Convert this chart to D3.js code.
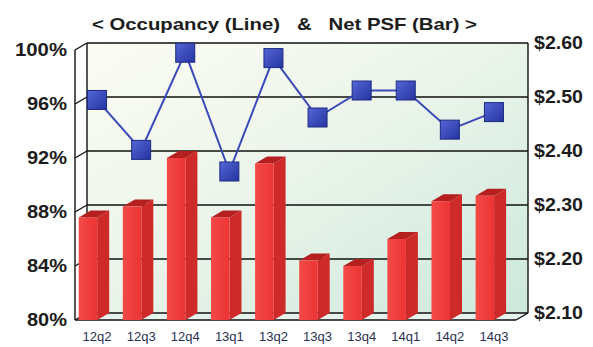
<!DOCTYPE html>
<html>
<head>
<meta charset="utf-8">
<script src="https://cdn.jsdelivr.net/npm/d3@7"></script>
<style>
  html, body { margin: 0; padding: 0; background: #ffffff; }
  svg { display: block; }
</style>
</head>
<body>
<svg id="chart" width="593" height="347"></svg>
<script>
// Quarterly occupancy (line, left axis) and net rent per square foot (bars, right axis)
const categories = ['12q2', '12q3', '12q4', '13q1', '13q2', '13q3', '13q4', '14q1', '14q2', '14q3'];
const occupancy = [96.3, 92.6, 99.8, 91.0, 99.4, 95.0, 97.0, 97.0, 94.1, 95.4];
const netPsf = [2.29, 2.31, 2.40, 2.29, 2.39, 2.21, 2.20, 2.25, 2.32, 2.33];
const pctTicks = [80, 84, 88, 92, 96, 100];
const psfTicks = [2.10, 2.20, 2.30, 2.40, 2.50, 2.60];

const svg = d3.select('#chart');

// Front plane of the 3-D box and the depth offset to the back wall
const front = { left: 75, right: 516, top: 50, bottom: 320 };
const depth = { dx: 12, dy: -7 };

const x = d3.scaleBand().domain(categories).range([front.left, front.right]).padding(0);
const yPct = d3.scaleLinear().domain([80, 100]).range([front.bottom, front.top]);
const yPsf = d3.scaleLinear().domain([2.10, 2.60]).range([front.bottom, front.top]);

const back = {
  left: front.left + depth.dx, right: front.right + depth.dx,
  top: front.top + depth.dy, bottom: front.bottom + depth.dy
};

const defs = svg.append('defs');
const wallGrad = defs.append('linearGradient').attr('id', 'wall')
  .attr('x1', '0').attr('y1', '0').attr('x2', '1').attr('y2', '1');
wallGrad.append('stop').attr('offset', '0%').attr('stop-color', '#fbfcf3');
wallGrad.append('stop').attr('offset', '40%').attr('stop-color', '#eef6ec');
wallGrad.append('stop').attr('offset', '100%').attr('stop-color', '#cde8dc');

const markGrad = defs.append('linearGradient').attr('id', 'mark')
  .attr('x1', '0').attr('y1', '0').attr('x2', '1').attr('y2', '1');
markGrad.append('stop').attr('offset', '0%').attr('stop-color', '#5566d6');
markGrad.append('stop').attr('offset', '100%').attr('stop-color', '#2434a0');

const barGrad = defs.append('linearGradient').attr('id', 'barFront')
  .attr('x1', '0').attr('y1', '0').attr('x2', '1').attr('y2', '0');
barGrad.append('stop').attr('offset', '0%').attr('stop-color', '#f24a48');
barGrad.append('stop').attr('offset', '100%').attr('stop-color', '#ec3434');

// Back wall
svg.append('rect')
  .attr('x', back.left).attr('y', back.top)
  .attr('width', back.right - back.left).attr('height', back.bottom - back.top)
  .attr('fill', 'url(#wall)');

// Floor strip
svg.append('path')
  .attr('d', `M${front.left},${front.bottom}L${back.left},${back.bottom}L${back.right},${back.bottom}L${front.right},${front.bottom}Z`)
  .attr('fill', '#e6f2ec');

// Gridlines on the back wall plus their slanted ticks on the left side wall
const grid = svg.append('g').attr('stroke', '#111').attr('stroke-width', 1.4).attr('fill', 'none');
pctTicks.forEach(t => {
  const yf = yPct(t), yb = yf + depth.dy;
  grid.append('line').attr('x1', back.left).attr('x2', back.right).attr('y1', yb).attr('y2', yb);
  grid.append('line').attr('x1', front.left).attr('x2', back.left).attr('y1', yf).attr('y2', yb);
});
// Box edges
grid.append('line').attr('x1', back.left).attr('x2', back.left).attr('y1', back.top).attr('y2', back.bottom);
grid.append('line').attr('x1', front.left).attr('x2', front.left).attr('y1', front.top).attr('y2', front.bottom);
grid.append('line').attr('x1', back.right).attr('x2', back.right).attr('y1', back.top).attr('y2', back.bottom);
grid.append('line').attr('x1', front.left).attr('x2', front.right).attr('y1', front.bottom).attr('y2', front.bottom);
grid.append('line').attr('x1', front.right).attr('x2', back.right).attr('y1', front.bottom).attr('y2', back.bottom);

// 3-D bars
const barOffset = 3.7, barWidth = 18.5;
const bars = svg.append('g');
categories.forEach((c, i) => {
  const x0 = x(c) + barOffset, x1 = x0 + barWidth;
  const yt = yPsf(netPsf[i]), yb = front.bottom;
  const g = bars.append('g');
  g.append('path')
    .attr('d', `M${x1},${yt}L${x1 + depth.dx},${yt + depth.dy}L${x1 + depth.dx},${yb + depth.dy}L${x1},${yb}Z`)
    .attr('fill', '#cf2a2a');
  g.append('path')
    .attr('d', `M${x0},${yt}L${x0 + depth.dx},${yt + depth.dy}L${x1 + depth.dx},${yt + depth.dy}L${x1},${yt}Z`)
    .attr('fill', '#b51f1f');
  g.append('rect')
    .attr('x', x0).attr('y', yt).attr('width', barWidth).attr('height', yb - yt)
    .attr('fill', 'url(#barFront)');
});

// Occupancy line and square markers
const cx = c => x(c) + x.bandwidth() / 2;
const line = d3.line().x((d, i) => cx(categories[i])).y(d => yPct(d));
svg.append('path')
  .datum(occupancy)
  .attr('d', line)
  .attr('fill', 'none')
  .attr('stroke', '#3a48b8')
  .attr('stroke-width', 2);

const ms = 19;
svg.append('g').selectAll('rect')
  .data(occupancy)
  .join('rect')
  .attr('x', (d, i) => cx(categories[i]) - ms / 2)
  .attr('y', d => yPct(d) - ms / 2)
  .attr('width', ms).attr('height', ms)
  .attr('fill', 'url(#mark)')
  .attr('stroke', '#1c2a80')
  .attr('stroke-width', 1);

// Axis labels
const font = '"Liberation Sans", Arial, sans-serif';
svg.append('g').selectAll('text')
  .data(pctTicks)
  .join('text')
  .attr('x', 67).attr('y', d => yPct(d))
  .attr('text-anchor', 'end').attr('dominant-baseline', 'central')
  .attr('font-family', font).attr('font-weight', 'bold').attr('font-size', 18)
  .attr('fill', '#1c1c1c')
  .attr('textLength', d => d === 100 ? 52 : 40).attr('lengthAdjust', 'spacingAndGlyphs')
  .text(d => d + '%');

svg.append('g').selectAll('text')
  .data(psfTicks)
  .join('text')
  .attr('x', back.right + 6).attr('y', d => yPsf(d) + depth.dy)
  .attr('dominant-baseline', 'central')
  .attr('font-family', font).attr('font-weight', 'bold').attr('font-size', 18)
  .attr('fill', '#1c1c1c')
  .attr('textLength', 49).attr('lengthAdjust', 'spacingAndGlyphs')
  .text(d => '$' + d.toFixed(2));

svg.append('g').selectAll('text')
  .data(categories)
  .join('text')
  .attr('x', c => cx(c)).attr('y', 336)
  .attr('text-anchor', 'middle').attr('dominant-baseline', 'central')
  .attr('font-family', font).attr('font-size', 13)
  .attr('fill', '#2a3050')
  .text(c => c);

// Title
svg.append('text')
  .attr('x', 92).attr('y', 24)
  .attr('dominant-baseline', 'central')
  .attr('font-family', font).attr('font-weight', 'bold').attr('font-size', 17)
  .attr('fill', '#1c1c1c')
  .attr('textLength', 385).attr('lengthAdjust', 'spacingAndGlyphs')
  .attr('xml:space', 'preserve')
  .style('white-space', 'pre')
  .text('< Occupancy (Line)   &   Net PSF (Bar) >');
</script>
</body>
</html>
